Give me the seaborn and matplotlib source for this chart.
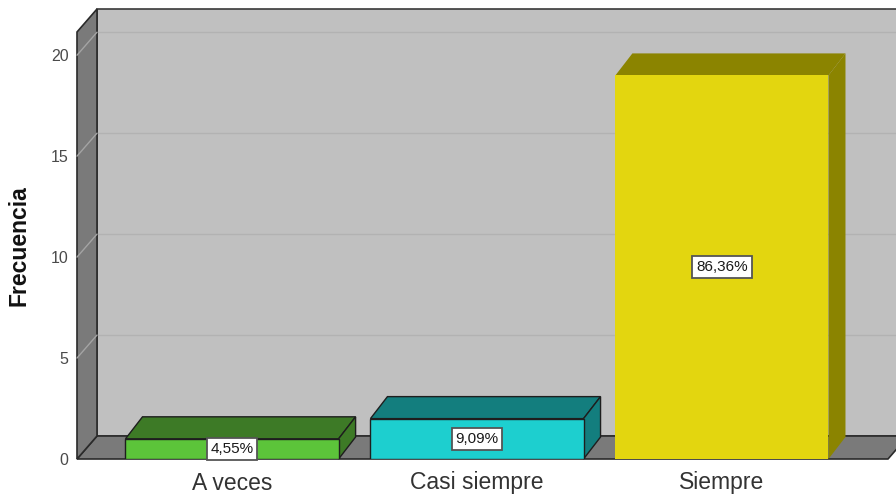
import matplotlib
matplotlib.use("Agg")
import matplotlib.pyplot as plt
from matplotlib.patches import Polygon
import seaborn as sns

# Frequency table
categories = ["A veces", "Casi siempre", "Siempre"]
frequencies = [1, 2, 19]
percent_labels = ["4,55%", "9,09%", "86,36%"]
y_ticks = [0, 5, 10, 15, 20]

front_colors = ["#5cc43a", "#1dcfcf", "#e3d60f"]
top_colors = ["#3d7a26", "#137e7e", "#8b8400"]
edge_colors = ["#1e1e1e", "#1e1e1e", "none"]

sns.set_theme(style="white")
plt.rcParams["font.family"] = ["Liberation Sans", "DejaVu Sans"]

W, H, DPI = 896, 495, 100
fig = plt.figure(figsize=(W / DPI, H / DPI), dpi=DPI)
fig.patch.set_facecolor("white")
# front plane of the 3D box
ax = fig.add_axes([77 / W, 36 / H, (888 - 77) / W, (459 - 32) / H])
XMIN, XMAX = -0.633, 2.678
YMAX = 21.15
WALL_D = (20, 23)   # depth of the box, in pixels
BAR_D = (17, 22)    # depth of the bars, in pixels

sns.barplot(x=categories, y=frequencies, hue=categories, palette=front_colors,
            width=0.87, ax=ax, legend=False, saturation=1)
ax.set_xlim(XMIN, XMAX)
ax.set_ylim(0, YMAX)
ax.patch.set_visible(False)

inv = fig.transFigure.inverted()


def figpt(x, y, d=(0, 0)):
    """Data point on the front plane, shifted back by d pixels, in figure coords."""
    p = ax.transData.transform((x, y))
    return inv.transform((p[0] + d[0], p[1] + d[1]))


def face(pts, fc, ec, lw, z):
    ax.add_patch(Polygon(pts, closed=True, transform=fig.transFigure,
                         facecolor=fc, edgecolor=ec, lw=lw, zorder=z, clip_on=False))


def seg(p0, p1, color, lw, z):
    ax.plot([p0[0], p1[0]], [p0[1], p1[1]], transform=fig.transFigure,
            color=color, lw=lw, zorder=z, clip_on=False)


dark = "#2a2a2a"
# back wall
face([figpt(XMIN, 0, WALL_D), figpt(XMAX, 0, WALL_D),
      figpt(XMAX, YMAX, WALL_D), figpt(XMIN, YMAX, WALL_D)],
     "#c0c0c0", "#3a3a3a", 1.2, 0.1)
for v in y_ticks[1:]:
    seg(figpt(XMIN, v, WALL_D), figpt(XMAX, v, WALL_D), "#b2b2b2", 1.0, 0.2)
# floor
face([figpt(XMIN, 0), figpt(XMAX, 0), figpt(XMAX, 0, WALL_D), figpt(XMIN, 0, WALL_D)],
     "#7a7a7a", dark, 1.2, 0.3)
# left side wall
face([figpt(XMIN, 0), figpt(XMIN, YMAX), figpt(XMIN, YMAX, WALL_D), figpt(XMIN, 0, WALL_D)],
     "#7a7a7a", dark, 1.2, 0.4)
for v in y_ticks[1:]:
    seg(figpt(XMIN, v), figpt(XMIN, v, WALL_D), "#a4a4a4", 1.0, 0.5)

# bars: front face from seaborn, top and right faces added behind it
for i, bar in enumerate(ax.patches[:len(categories)]):
    x0, w, h = bar.get_x(), bar.get_width(), bar.get_height()
    x1 = x0 + w
    bar.set_edgecolor(edge_colors[i])
    bar.set_linewidth(1.0)
    bar.set_zorder(3)
    face([figpt(x0, h), figpt(x1, h), figpt(x1, h, BAR_D), figpt(x0, h, BAR_D)],
         top_colors[i], edge_colors[i], 1.0, 2)
    face([figpt(x1, 0), figpt(x1, h), figpt(x1, h, BAR_D), figpt(x1, 0, BAR_D)],
         top_colors[i], edge_colors[i], 1.0, 2)
    ax.text(x0 + w / 2, h / 2, percent_labels[i], ha="center", va="center",
            fontsize=11, color="#1a1a1a", zorder=10,
            bbox=dict(boxstyle="square,pad=0.25", facecolor="white",
                      edgecolor="#555555", lw=1.3))

for s in ax.spines.values():
    s.set_visible(False)
ax.set_yticks(y_ticks)
ax.set_yticklabels([str(t) for t in y_ticks], fontsize=11.5, color="#4a4a4a")
ax.tick_params(axis="y", length=0, pad=6)
ax.tick_params(axis="x", length=0, pad=9, labelsize=16.5, labelcolor="#333333")
ax.set_xlabel("")
ax.set_ylabel("Frecuencia", fontsize=16.5, fontweight="bold", color="#111111")
ax.yaxis.set_label_coords(-0.057, 0.50)
ax.grid(False)

fig.savefig("out.png", dpi=DPI, facecolor="white")
